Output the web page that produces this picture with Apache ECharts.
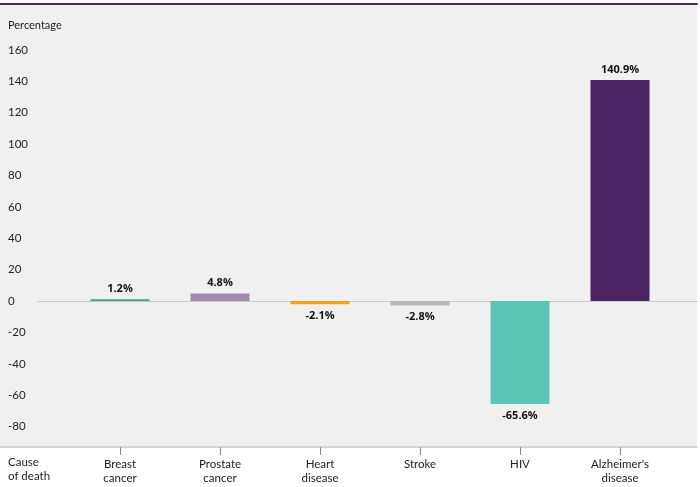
<!DOCTYPE html>
<html><head><meta charset="utf-8">
<script src="https://cdn.jsdelivr.net/npm/echarts@6/dist/echarts.min.js"></script>
<style>html,body{margin:0;padding:0;background:#fff}#c{width:700px;height:487px}</style>
</head><body><div id="c"></div>
<script>
const categories = ["Breast\ncancer", "Prostate\ncancer", "Heart\ndisease", "Stroke", "HIV", "Alzheimer's\ndisease"];
const values = [1.2, 4.8, -2.1, -2.8, -65.6, 140.9];
const colors = ["#4f9a8c", "#a08bad", "#f5a021", "#b8b8b8", "#5cc5b5", "#4a2462"];
const yTicks = [-80, -60, -40, -20, 0, 20, 40, 60, 80, 100, 120, 140, 160];
const positions = [1, 2, 3, 4, 5, 6];

const yMin = -93, yMax = 189.3;
const xMin = 0.18, xMax = 6.77;
const font = "Lato";

const chart = echarts.init(document.getElementById('c'));
chart.setOption({
  backgroundColor: '#ffffff',
  animation: false,
  title: [
    {text: 'Percentage', left: 8, top: 20, padding: 0, textStyle: {fontFamily: font, fontSize: 11, fontWeight: 'normal', color: '#222'}},
    {text: 'Cause\nof death', left: 8, top: 455, padding: 0, textStyle: {fontFamily: font, fontSize: 11.5, fontWeight: 'normal', color: '#222', lineHeight: 14}}
  ],
  grid: [
    {left: 0, right: 3, top: 4, bottom: 40, show: true, backgroundColor: '#f0f0f0', borderWidth: 0},
    {left: 38, right: 3, top: 4, bottom: 40}
  ],
  xAxis: [
    {gridIndex: 0, type: 'value', min: 0, max: 1, position: 'bottom',
     axisLine: {show: true, onZero: false, lineStyle: {color: '#c8c8c8', width: 1.5}}, axisTick: {show: false}, axisLabel: {show: false}, splitLine: {show: false}},
    {gridIndex: 0, type: 'value', min: 0, max: 1, position: 'top',
     axisLine: {show: true, onZero: false, lineStyle: {color: '#4a2462', width: 2}}, axisTick: {show: false}, axisLabel: {show: false}, splitLine: {show: false}},
    {gridIndex: 1, type: 'value', min: xMin, max: xMax, position: 'bottom',
     axisLine: {show: false, onZero: false},
     axisTick: {show: true, customValues: positions, length: 8, lineStyle: {color: '#888'}},
     axisLabel: {show: true, customValues: positions, margin: 10, fontFamily: font, fontSize: 11.5, color: '#222', lineHeight: 14,
       formatter: v => categories[Math.round(v) - 1] || ''},
     splitLine: {show: false}},
    {gridIndex: 1, type: 'value', min: xMin, max: xMax,
     axisLine: {show: true, onZero: true, lineStyle: {color: '#c8c8c8', width: 1}}, axisTick: {show: false}, axisLabel: {show: false}, splitLine: {show: false}}
  ],
  yAxis: [
    {gridIndex: 0, type: 'value', min: yMin, max: yMax,
     axisLine: {show: false}, axisTick: {show: false}, splitLine: {show: false},
     axisLabel: {inside: true, margin: 8, customValues: yTicks, fontFamily: font, fontSize: 11.5, color: '#222'}},
    {gridIndex: 1, type: 'value', min: yMin, max: yMax,
     axisLine: {show: false}, axisTick: {show: false}, splitLine: {show: false}, axisLabel: {show: false}}
  ],
  series: [{
    type: 'bar', xAxisIndex: 2, yAxisIndex: 1, barWidth: 59,
    data: values.map((v, i) => ({
      value: [positions[i], v],
      itemStyle: {color: colors[i]},
      label: {position: v >= 0 ? 'top' : 'bottom', distance: v >= 0 ? 5 : 6}
    })),
    label: {show: true, fontFamily: 'Open Sans', fontWeight: 'bold', fontSize: 11, color: '#111',
      formatter: p => p.value[1].toFixed(1) + '%'}
  }]
});
</script></body></html>
